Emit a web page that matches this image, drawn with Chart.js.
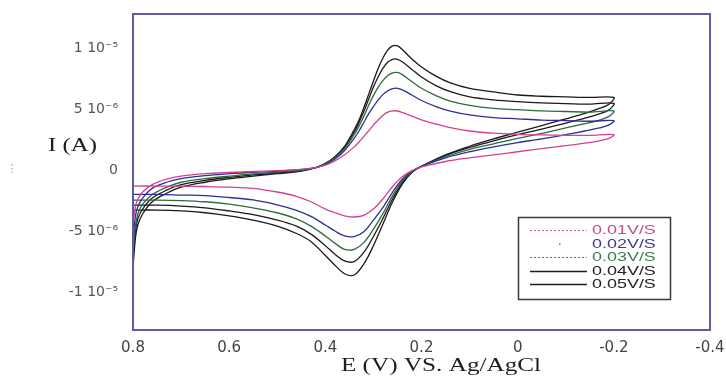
<!DOCTYPE html>
<html><head><meta charset="utf-8">
<script src="https://cdn.jsdelivr.net/npm/chart.js@4.4.0/dist/chart.umd.min.js"></script>
<style>html,body{margin:0;padding:0;background:#fff;}#wrap{width:726px;height:377px;}</style>
</head><body><div id="wrap"><canvas id="c" width="726" height="377"></canvas></div>
<script>
// ---- data (current in µA, potential in V) ----
const scanRateLabels = ['0.01V/S', '0.02V/S', '0.03V/S', '0.04V/S', '0.05V/S'];
const xTickValues = [0.8, 0.6, 0.4, 0.2, 0, -0.2, -0.4];
const xTickLabels = ['0.8', '0.6', '0.4', '0.2', '0', '-0.2', '-0.4'];
const yTickValues = [10, 5, 0, -5, -10];
const yTickLabels = ['1 10\u207B\u2075', '5 10\u207B\u2076', '0', '-5 10\u207B\u2076', '-1 10\u207B\u2075'];
const xAxisTitle = 'E (V) VS. Ag/AgCl';
const yAxisTitle = 'I (A)';

const potentialForward = [0.8, 0.795, 0.79, 0.78, 0.76, 0.73, 0.70, 0.65, 0.60, 0.55, 0.50, 0.45, 0.42, 0.40, 0.38, 0.36, 0.34, 0.33, 0.32, 0.31, 0.30, 0.29, 0.28, 0.27, 0.26, 0.25, 0.24, 0.22, 0.20, 0.17, 0.14, 0.10, 0.05, 0.0, -0.05, -0.10, -0.15, -0.2];
const potentialReverse = [-0.19, -0.17, -0.14, -0.10, -0.05, 0.0, 0.05, 0.10, 0.15, 0.20, 0.22, 0.24, 0.26, 0.28, 0.30, 0.32, 0.34, 0.36, 0.38, 0.40, 0.43, 0.46, 0.50, 0.55, 0.60, 0.65, 0.70, 0.75, 0.8];

const current001Fwd = [-4.5, -3.0, -2.4, -1.8, -1.2, -0.75, -0.5, -0.3, -0.2, -0.12, -0.05, 0.05, 0.2, 0.4, 0.75, 1.25, 1.9, 2.3, 2.75, 3.2, 3.7, 4.1, 4.5, 4.75, 4.85, 4.84, 4.72, 4.42, 4.12, 3.77, 3.47, 3.2, 3.02, 2.93, 2.88, 2.85, 2.85, 2.9];
const current001Rev = [2.6, 2.4, 2.2, 2.0, 1.75, 1.5, 1.25, 1.0, 0.7, 0.25, -0.05, -0.55, -1.35, -2.35, -3.2, -3.72, -3.85, -3.75, -3.5, -3.2, -2.6, -2.15, -1.8, -1.5, -1.4, -1.35, -1.32, -1.31, -1.31];

const current002Fwd = [-5.8, -3.8, -3.0, -2.3, -1.5, -1.0, -0.7, -0.45, -0.3, -0.18, -0.1, 0.05, 0.2, 0.45, 0.9, 1.6, 2.6, 3.2, 3.9, 4.6, 5.2, 5.75, 6.2, 6.5, 6.68, 6.7, 6.57, 6.15, 5.7, 5.2, 4.83, 4.52, 4.3, 4.2, 4.1, 4.05, 4.0, 4.05];
const current002Rev = [3.7, 3.45, 3.2, 2.9, 2.55, 2.25, 1.9, 1.5, 1.0, 0.3, -0.1, -0.75, -1.8, -3.05, -4.1, -5.05, -5.45, -5.4, -5.0, -4.5, -3.8, -3.3, -2.85, -2.45, -2.25, -2.1, -2.05, -2.0, -2.0];

const current003Fwd = [-6.8, -4.6, -3.6, -2.8, -2.0, -1.4, -1.0, -0.7, -0.5, -0.32, -0.18, 0.0, 0.2, 0.5, 1.0, 1.75, 2.9, 3.6, 4.4, 5.3, 6.1, 6.8, 7.35, 7.75, 7.97, 8.0, 7.82, 7.25, 6.7, 6.1, 5.65, 5.3, 5.05, 4.95, 4.85, 4.8, 4.75, 4.85];
const current003Rev = [4.4, 4.1, 3.8, 3.45, 3.0, 2.6, 2.15, 1.7, 1.1, 0.3, -0.15, -0.9, -2.1, -3.55, -4.85, -5.95, -6.5, -6.5, -6.0, -5.4, -4.6, -4.0, -3.5, -3.1, -2.8, -2.6, -2.5, -2.46, -2.46];

const current004Fwd = [-7.4, -5.0, -4.0, -3.2, -2.3, -1.65, -1.2, -0.85, -0.6, -0.4, -0.25, -0.05, 0.2, 0.5, 1.05, 1.85, 3.1, 3.9, 4.8, 5.8, 6.8, 7.65, 8.35, 8.85, 9.08, 9.08, 8.88, 8.25, 7.62, 6.92, 6.42, 6.0, 5.75, 5.6, 5.5, 5.45, 5.4, 5.47];
const current004Rev = [4.95, 4.6, 4.25, 3.85, 3.35, 2.9, 2.4, 1.85, 1.2, 0.3, -0.18, -1.05, -2.35, -3.95, -5.45, -6.75, -7.5, -7.45, -6.9, -6.2, -5.25, -4.6, -4.1, -3.65, -3.35, -3.1, -2.95, -2.88, -2.87];

const current005Fwd = [-8.0, -5.6, -4.5, -3.6, -2.6, -1.9, -1.4, -1.0, -0.72, -0.5, -0.3, -0.08, 0.2, 0.55, 1.1, 1.95, 3.3, 4.1, 5.1, 6.2, 7.3, 8.35, 9.2, 9.85, 10.18, 10.18, 9.88, 9.1, 8.45, 7.7, 7.15, 6.7, 6.4, 6.15, 6.05, 6.0, 5.95, 5.95];
const current005Rev = [5.4, 5.05, 4.65, 4.2, 3.65, 3.1, 2.55, 1.95, 1.25, 0.3, -0.2, -1.15, -2.6, -4.4, -6.2, -7.7, -8.6, -8.5, -7.8, -7.0, -5.85, -5.2, -4.6, -4.1, -3.75, -3.5, -3.35, -3.28, -3.28];

// ---- styles ----
const lineColors = ['#d4428e', '#2e2e96', '#2d6b3c', '#1a1a1a', '#1a1a1a'];
const legendTextColors = ['#c24f8d', '#3c3c8a', '#3f7c52', '#222222', '#222222'];

function loop(fwd, rev) {
  const pts = [];
  potentialForward.forEach((e, i) => pts.push({x: e, y: fwd[i]}));
  potentialReverse.forEach((e, i) => pts.push({x: e, y: rev[i]}));
  return pts;
}
const series = [
  loop(current001Fwd, current001Rev),
  loop(current002Fwd, current002Rev),
  loop(current003Fwd, current003Rev),
  loop(current004Fwd, current004Rev),
  loop(current005Fwd, current005Rev)
];

function drawStretched(ctx, text, x, y, font, color, sx, align) {
  ctx.save();
  ctx.translate(x, y);
  ctx.scale(sx, 1);
  ctx.font = font;
  ctx.fillStyle = color;
  ctx.textAlign = align;
  ctx.textBaseline = 'middle';
  ctx.fillText(text, 0, 0);
  ctx.restore();
}

const decor = {
  id: 'decor',
  afterDatasetsDraw(chart) {
    const {ctx, chartArea: a} = chart;
    ctx.save();
    ctx.strokeStyle = '#5c5ca6';
    ctx.lineWidth = 2;
    ctx.strokeRect(a.left, a.top, a.right - a.left, a.bottom - a.top);
    ctx.restore();
  },
  afterDraw(chart) {
    const ctx = chart.ctx;
    drawStretched(ctx, xAxisTitle, 441, 366, '18px "Liberation Serif"', '#1e1e1e', 1.4, 'center');
    drawStretched(ctx, yAxisTitle, 72.5, 146, '18px "Liberation Serif"', '#1e1e1e', 1.38, 'center');
    drawStretched(ctx, '\u22EE', 12, 169, '11px "DejaVu Sans"', '#9a9a9a', 1, 'center');
    // legend box
    ctx.save();
    ctx.fillStyle = '#ffffff';
    ctx.fillRect(518, 217, 152, 82);
    ctx.strokeStyle = '#3a3a3a';
    ctx.lineWidth = 1.5;
    ctx.strokeRect(518.5, 217.5, 152, 82);
    scanRateLabels.forEach((lab, i) => {
      const y = Math.round(230 + i * 13.6) + 0.5;
      ctx.save();
      if (i === 1) {
        ctx.fillStyle = '#6a6aa8';
        ctx.fillRect(559, y - 1, 1.5, 1.5);
      } else {
        ctx.beginPath();
        ctx.moveTo(530, y);
        ctx.lineTo(587, y);
        if (i === 0 || i === 2) {
          ctx.setLineDash([2, 2]);
          ctx.lineWidth = 1;
          ctx.strokeStyle = i === 0 ? '#d0589a' : '#4c8a5c';
        } else {
          ctx.lineWidth = 1.4;
          ctx.strokeStyle = '#1e1e1e';
        }
        ctx.stroke();
      }
      ctx.restore();
      drawStretched(ctx, lab, 592, y, '13px "Liberation Sans"', legendTextColors[i], 1.38, 'left');
    });
    ctx.restore();
  }
};

new Chart(document.getElementById('c'), {
  type: 'scatter',
  data: {
    datasets: series.map((pts, i) => ({
      label: scanRateLabels[i],
      data: pts,
      showLine: true,
      borderColor: lineColors[i],
      backgroundColor: lineColors[i],
      borderWidth: 1.3,
      pointRadius: 0,
      tension: 0.35,
      fill: false
    }))
  },
  options: {
    responsive: false,
    animation: false,
    devicePixelRatio: 1,
    layout: {padding: {top: 14, right: 16, left: 0, bottom: 0}},
    plugins: {legend: {display: false}, tooltip: {enabled: false}},
    scales: {
      x: {
        type: 'linear', reverse: true, min: -0.4, max: 0.8,
        grid: {display: false, drawTicks: false},
        border: {display: false},
        afterBuildTicks: s => { s.ticks = xTickValues.map(v => ({value: v})); },
        afterFit: s => { s.height = 47; s.paddingLeft = 0; s.paddingRight = 0; },
        ticks: {
          autoSkip: false, maxRotation: 0, padding: 9,
          color: '#444', font: {family: 'DejaVu Sans', size: 15},
          callback: (v, i) => xTickLabels[i]
        }
      },
      y: {
        type: 'linear', min: -13.11, max: 12.79,
        grid: {display: false, drawTicks: false},
        border: {display: false},
        afterBuildTicks: s => { s.ticks = yTickValues.map(v => ({value: v})); },
        afterFit: s => { s.width = 133; s.paddingTop = 0; s.paddingBottom = 0; },
        ticks: {
          autoSkip: false, padding: 15,
          color: '#555', font: {family: 'DejaVu Sans', size: 14},
          callback: (v, i) => yTickLabels[i]
        }
      }
    }
  },
  plugins: [decor]
});
</script></body></html>
